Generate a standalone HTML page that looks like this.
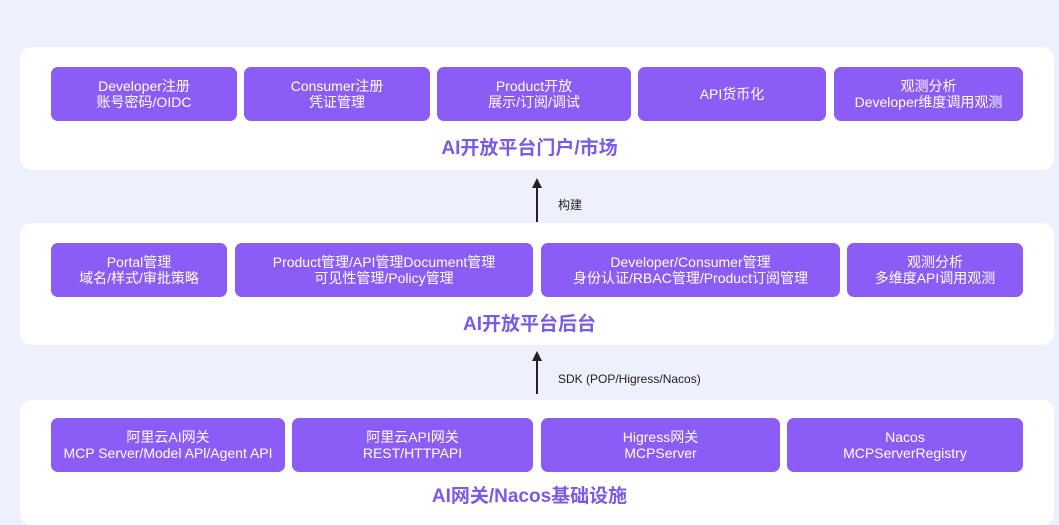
<!DOCTYPE html>
<html><head><meta charset="utf-8"><style>
body{margin:0;width:1059px;height:520px;background:#eef0fd;position:relative;overflow:hidden;font-family:"Liberation Sans","Noto Sans CJK SC",sans-serif}
.p{position:absolute;left:20px;width:1034px;background:#fff;border-radius:12px}
.b{position:absolute;background:#8b5cf6;color:#fff;border-radius:7px;display:flex;flex-direction:column;justify-content:center;align-items:center;font-size:14px;line-height:16px;text-align:center;white-space:nowrap}
.t{position:absolute;left:0;width:1059px;text-align:center;color:#7a5ae6;font-weight:bold;font-size:19px;line-height:24px}
.a{position:absolute;left:536px;width:2px;background:#222}
.h{position:absolute;left:532px;width:0;height:0;border-left:5px solid transparent;border-right:5px solid transparent;border-bottom:10px solid #222}
.l{position:absolute;left:558px;font-size:12px;color:#222}
</style></head><body>
<div class="p" style="top:47px;height:123px"></div>
<div class="p" style="top:223px;height:122px"></div>
<div class="p" style="top:400px;height:125px"></div>

<div class="b" style="left:51px;top:67px;width:186px;height:54px"><div>Developer注册</div><div>账号密码/OIDC</div></div>
<div class="b" style="left:244px;top:67px;width:186px;height:54px"><div>Consumer注册</div><div>凭证管理</div></div>
<div class="b" style="left:437px;top:67px;width:194px;height:54px"><div>Product开放</div><div>展示/订阅/调试</div></div>
<div class="b" style="left:638px;top:67px;width:188px;height:54px"><div>API货币化</div></div>
<div class="b" style="left:834px;top:67px;width:189px;height:54px"><div>观测分析</div><div>Developer维度调用观测</div></div>
<div class="t" style="top:137px">AI开放平台门户/市场</div>

<div class="h" style="top:178px"></div><div class="a" style="top:186px;height:36px"></div>
<div class="l" style="top:196px">构建</div>

<div class="b" style="left:51px;top:243px;width:176px;height:54px"><div>Portal管理</div><div>域名/样式/审批策略</div></div>
<div class="b" style="left:235px;top:243px;width:298px;height:54px"><div>Product管理/API管理Document管理</div><div>可见性管理/Policy管理</div></div>
<div class="b" style="left:541px;top:243px;width:299px;height:54px"><div>Developer/Consumer管理</div><div>身份认证/RBAC管理/Product订阅管理</div></div>
<div class="b" style="left:847px;top:243px;width:176px;height:54px"><div>观测分析</div><div>多维度API调用观测</div></div>
<div class="t" style="top:313px">AI开放平台后台</div>

<div class="h" style="top:351px"></div><div class="a" style="top:359px;height:35px"></div>
<div class="l" style="top:372px">SDK (POP/Higress/Nacos)</div>

<div class="b" style="left:51px;top:418px;width:234px;height:54px"><div>阿里云AI网关</div><div>MCP Server/Model APl/Agent API</div></div>
<div class="b" style="left:292px;top:418px;width:241px;height:54px"><div>阿里云API网关</div><div>REST/HTTPAPI</div></div>
<div class="b" style="left:541px;top:418px;width:239px;height:54px"><div>Higress网关</div><div>MCPServer</div></div>
<div class="b" style="left:787px;top:418px;width:236px;height:54px"><div>Nacos</div><div>MCPServerRegistry</div></div>
<div class="t" style="top:485px">AI网关/Nacos基础设施</div>
</body></html>
